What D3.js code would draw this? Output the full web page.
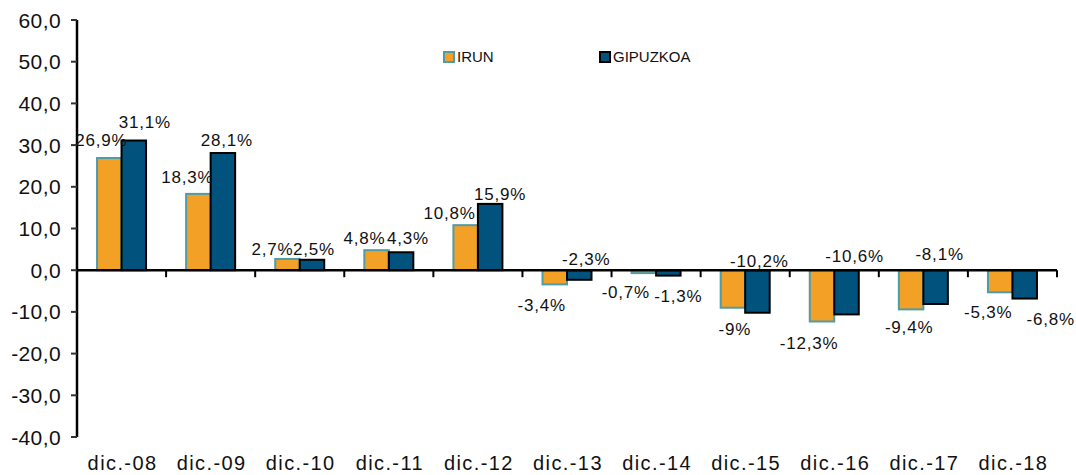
<!DOCTYPE html>
<html>
<head>
<meta charset="utf-8">
<script src="https://cdn.jsdelivr.net/npm/d3@7"></script>
<style>
  body { margin: 0; background: #fff; }
  svg { display: block; font-family: "Liberation Sans", Arial, sans-serif; }
</style>
</head>
<body>
<div id="chart"></div>
<script>
// datos
const categories = ["dic.-08", "dic.-09", "dic.-10", "dic.-11", "dic.-12", "dic.-13",
                    "dic.-14", "dic.-15", "dic.-16", "dic.-17", "dic.-18"];
const irun = [26.9, 18.3, 2.7, 4.8, 10.8, -3.4, -0.7, -9, -12.3, -9.4, -5.3];
const gipuzkoa = [31.1, 28.1, 2.5, 4.3, 15.9, -2.3, -1.3, -10.2, -10.6, -8.1, -6.8];
const yTicks = [-40, -30, -20, -10, 0, 10, 20, 30, 40, 50, 60];
const seriesNames = ["IRUN", "GIPUZKOA"];

// desplazamiento de etiquetas (dx, dy desde el extremo de la barra)
const irunLabelDx = [-8, -11, -15, -12, -16, -13, -18, 2, -13, -2, -12];
const irunLabelDy = [-18, -17, -10, -12, -12, 21, 19, 21, 22, 18, 20];
const gipLabelDx = [11, 4, 2, 7, 10, 7, 10, 2, 8, 4, 26];
const gipLabelDy = [-18, -13, -11, -14, -10, -21, 20, -52, -58, -50, 20];

const width = 1076, height = 475;
const margin = {top: 20, right: 19, bottom: 38, left: 77};

const svg = d3.select("#chart").append("svg")
  .attr("width", width)
  .attr("height", height);

const x = d3.scaleBand()
  .domain(categories)
  .range([margin.left, width - margin.right]);

const y = d3.scaleLinear()
  .domain([-40, 60])
  .range([height - margin.bottom, margin.top]);

const loc = d3.formatLocale({decimal: ",", thousands: ".", grouping: [3], currency: ["", "€"], minus: "-"});
const fmtAxis = loc.format(".1f");
const fmtLabel = v => loc.format(".1~f")(v) + "%";

const barW = 24.5;
const colors = {irun: "#F3A026", irunStroke: "#4E9CA8", gip: "#02527E", gipStroke: "#000"};

// eje y
svg.append("line")
  .attr("x1", margin.left).attr("x2", margin.left)
  .attr("y1", y(60)).attr("y2", y(-40))
  .attr("stroke", "#000").attr("stroke-width", 2.5);

svg.append("g").selectAll("line")
  .data(yTicks).enter().append("line")
  .attr("x1", margin.left - 6).attr("x2", margin.left)
  .attr("y1", d => y(d)).attr("y2", d => y(d))
  .attr("stroke", "#333").attr("stroke-width", 2);

svg.append("g").selectAll("text")
  .data(yTicks).enter().append("text")
  .attr("x", 61)
  .attr("y", d => y(d))
  .attr("dy", "0.36em")
  .attr("text-anchor", "end")
  .attr("font-size", "21px")
  .attr("letter-spacing", "0.4px")
  .attr("fill", "#111")
  .text(d => fmtAxis(d));

// barras
const cx = d => x(d) + x.bandwidth() / 2;

svg.append("g").selectAll("rect")
  .data(categories).enter().append("rect")
  .attr("x", d => cx(d) - barW)
  .attr("y", (d, i) => y(Math.max(0, irun[i])))
  .attr("width", barW)
  .attr("height", (d, i) => Math.abs(y(irun[i]) - y(0)))
  .attr("fill", colors.irun)
  .attr("stroke", colors.irunStroke)
  .attr("stroke-width", 2);

svg.append("g").selectAll("rect")
  .data(categories).enter().append("rect")
  .attr("x", d => cx(d))
  .attr("y", (d, i) => y(Math.max(0, gipuzkoa[i])))
  .attr("width", barW)
  .attr("height", (d, i) => Math.abs(y(gipuzkoa[i]) - y(0)))
  .attr("fill", colors.gip)
  .attr("stroke", colors.gipStroke)
  .attr("stroke-width", 2);

// eje x (linea del cero)
svg.append("line")
  .attr("x1", margin.left).attr("x2", width - margin.right)
  .attr("y1", y(0)).attr("y2", y(0))
  .attr("stroke", "#000").attr("stroke-width", 2.5);

svg.append("g").selectAll("line")
  .data(categories.slice(1).concat(["end"])).enter().append("line")
  .attr("x1", (d, i) => margin.left + (i + 1) * x.bandwidth())
  .attr("x2", (d, i) => margin.left + (i + 1) * x.bandwidth())
  .attr("y1", y(0)).attr("y2", y(0) + 7)
  .attr("stroke", "#000").attr("stroke-width", 2);

svg.append("g").selectAll("text")
  .data(categories).enter().append("text")
  .attr("x", d => cx(d) + 1)
  .attr("y", 470)
  .attr("text-anchor", "middle")
  .attr("font-size", "20px")
  .attr("letter-spacing", "1.4px")
  .attr("fill", "#111")
  .text(d => d);

// etiquetas de datos
svg.append("g").selectAll("text")
  .data(categories).enter().append("text")
  .attr("x", (d, i) => cx(d) - barW / 2 + irunLabelDx[i])
  .attr("y", (d, i) => y(irun[i]) + irunLabelDy[i])
  .attr("dy", "0.35em")
  .attr("text-anchor", "middle")
  .attr("font-size", "17px")
  .attr("letter-spacing", "0.8px")
  .attr("fill", "#111")
  .text((d, i) => fmtLabel(irun[i]));

svg.append("g").selectAll("text")
  .data(categories).enter().append("text")
  .attr("x", (d, i) => cx(d) + barW / 2 + gipLabelDx[i])
  .attr("y", (d, i) => y(gipuzkoa[i]) + gipLabelDy[i])
  .attr("dy", "0.35em")
  .attr("text-anchor", "middle")
  .attr("font-size", "17px")
  .attr("letter-spacing", "0.8px")
  .attr("fill", "#111")
  .text((d, i) => fmtLabel(gipuzkoa[i]));

// leyenda
const legendX = [444, 600];
const legend = svg.append("g").selectAll("g")
  .data(seriesNames).enter().append("g")
  .attr("transform", (d, i) => "translate(" + legendX[i] + ",52)");

legend.append("rect")
  .attr("width", 10).attr("height", 10)
  .attr("fill", (d, i) => i === 0 ? colors.irun : colors.gip)
  .attr("stroke", (d, i) => i === 0 ? colors.irunStroke : colors.gipStroke)
  .attr("stroke-width", 2);

legend.append("text")
  .attr("x", 13)
  .attr("y", 5)
  .attr("dy", "0.36em")
  .attr("font-size", "15px")
  .attr("fill", "#111")
  .text(d => d);
</script>
</body>
</html>
